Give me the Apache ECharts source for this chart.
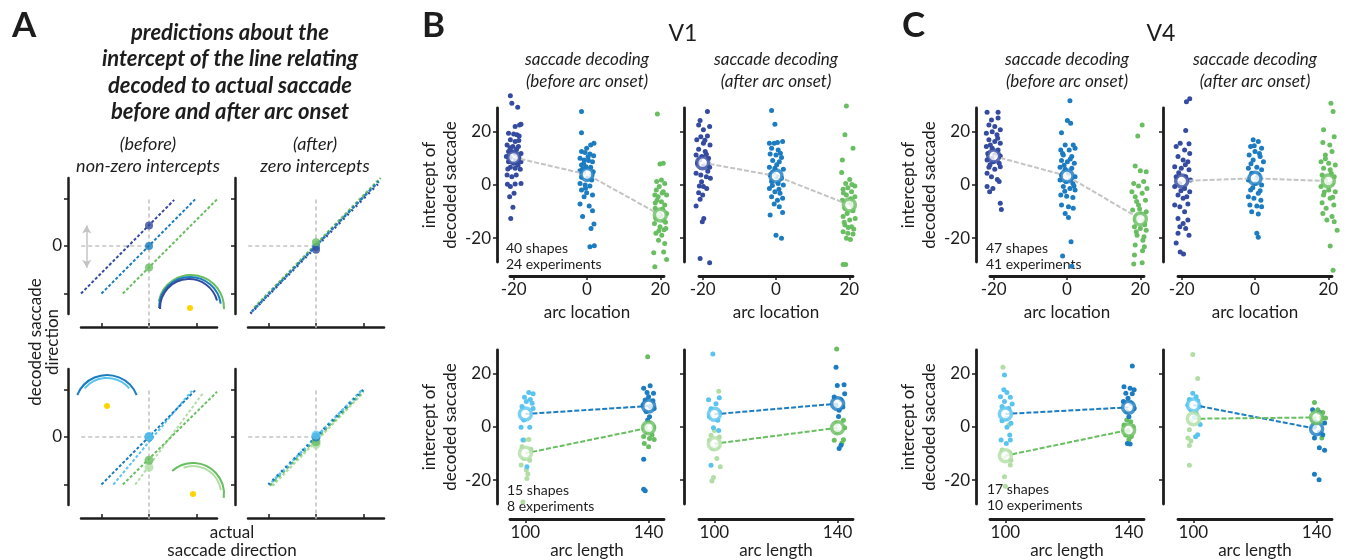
<!DOCTYPE html>
<html>
<head>
<meta charset="utf-8">
<script src="https://cdn.jsdelivr.net/npm/echarts@6/dist/echarts.min.js"></script>
<style>
  html, body { margin: 0; padding: 0; background: #fff; }
  #chart { width: 1346px; height: 560px; }
</style>
</head>
<body>
<div id="chart"></div>
<script>
// ---- data: [jittered x, intercept] ----
const arcLocations = [-20, 0, 20];
const arcLengths = [100, 140];
const locTicks = [-20, 0, 20];
const yTicks = [-20, 0, 20];

// V1, before arc onset
const v1BeforeM20 = [[-20.9,33.6],[-20.5,30.8],[-18.9,29.3],[-18.4,22.6],[-19.6,22.0],[-18.0,22.9],[-21.4,19.5],[-20.0,19.2],[-19.1,18.9],[-18.5,18.5],[-20.9,17.0],[-19.6,16.4],[-21.8,15.1],[-20.2,14.5],[-18.7,14.5],[-21.4,12.6],[-20.5,12.6],[-19.6,11.9],[-18.0,11.9],[-22.0,10.7],[-20.9,10.4],[-18.7,10.4],[-21.4,8.8],[-20.0,8.2],[-19.1,8.2],[-18.0,8.8],[-20.9,6.7],[-19.6,6.3],[-18.2,5.9],[-21.8,3.8],[-20.5,3.1],[-19.3,3.8],[-21.7,0.3],[-20.9,-0.6],[-19.6,0.4],[-18.0,0.6],[-21.1,-4.4],[-19.9,-3.1],[-20.2,-8.4],[-20.8,-12.6],[-19.2,13.5],[-21.0,14.0],[-18.6,16.8],[-19.5,9.6],[-21.6,6.0],[-18.8,7.4]];
const v1Before0 = [[-1.5,27.7],[-1.5,19.7],[1.9,15.7],[1.0,15.1],[-0.1,13.8],[-1.5,12.6],[-0.5,12.2],[0.8,11.7],[-1.9,10.1],[-0.8,9.4],[0.4,9.2],[1.5,8.8],[-1.5,7.5],[-0.3,6.9],[1.0,6.7],[-1.9,5.4],[-1.0,4.7],[1.7,5.0],[-1.5,2.9],[0.1,2.5],[1.3,1.9],[-1.9,0.6],[-0.5,0.0],[0.8,-0.4],[-1.5,-1.9],[-0.1,-2.9],[1.5,-3.8],[-0.8,-4.4],[-1.9,-7.2],[0.6,-7.9],[1.5,-9.7],[-1.2,-11.9],[1.9,-14.7],[1.1,-16.4],[0.8,-23.3],[2.0,-22.9],[0.3,10.6],[-0.9,8.0],[1.2,3.6],[-0.4,-1.2],[1.8,11.0],[-1.2,6.0]];
const v1Before20 = [[19.2,26.7],[20.8,8.2],[19.9,7.9],[19.0,1.3],[20.3,1.9],[21.2,0.6],[19.7,-0.6],[18.5,-3.8],[20.8,-2.5],[21.7,-3.8],[19.1,-5.7],[20.3,-6.3],[21.2,-7.5],[18.6,-8.8],[19.9,-10.1],[21.7,-10.7],[18.8,-12.6],[20.8,-13.2],[18.4,-14.5],[19.9,-15.7],[21.5,-16.4],[18.8,-18.2],[20.4,-18.9],[19.5,-20.8],[21.2,-22.0],[18.2,-25.5],[20.9,-25.2],[21.7,-28.1],[18.5,-30.8],[19.4,-4.4],[20.6,-9.0],[19.3,-12.0],[21.0,-16.9],[18.9,-1.9],[20.1,-11.5],[18.6,-6.8],[21.4,-14.0],[19.6,-17.2],[20.5,-3.0]];
const v1BeforeMeans = [10.4, 4.0, -11.3];

// V1, after arc onset
const v1AfterM20 = [[-18.7,27.7],[-20.7,24.3],[-18.1,22.0],[-21.1,22.6],[-19.8,20.8],[-20.5,18.2],[-18.7,18.5],[-21.6,17.0],[-19.8,15.7],[-18.0,15.1],[-21.1,13.5],[-19.3,12.6],[-21.8,11.3],[-20.2,10.7],[-18.4,10.1],[-21.4,8.2],[-19.8,7.2],[-18.1,6.7],[-21.8,4.4],[-20.5,3.8],[-19.0,3.1],[-17.9,2.5],[-20.9,-0.4],[-19.8,-0.6],[-18.9,-1.3],[-21.1,-2.9],[-20.0,-3.8],[-20.7,-5.4],[-21.8,-7.9],[-19.7,-12.6],[-20.1,-13.8],[-20.7,-27.7],[-18.1,-29.3],[-19.0,11.6],[-20.8,9.4],[-18.6,5.2],[-20.3,1.2],[-19.4,16.9]];
const v1After0 = [[-1.2,28.1],[-0.3,22.9],[-1.8,15.7],[-0.5,15.7],[0.4,16.0],[1.8,16.4],[-1.2,13.8],[0.6,13.2],[-1.6,11.7],[0.0,11.3],[1.5,10.4],[-0.9,9.2],[0.9,8.8],[-1.8,6.7],[-0.3,6.3],[2.0,5.9],[-1.6,3.8],[0.2,3.1],[1.5,2.5],[-1.2,1.3],[0.6,0.6],[2.0,0.0],[-1.8,-1.3],[-0.3,-2.5],[1.1,-3.1],[-1.2,-4.4],[0.4,-5.7],[1.8,-5.0],[-0.5,-7.2],[0.9,-8.2],[-1.6,-11.3],[1.8,-10.4],[0.0,-18.9],[1.5,-20.1],[0.2,7.6],[-0.7,4.8],[1.2,12.0],[-1.0,-0.2],[0.8,-1.6]];
const v1After20 = [[19.2,29.8],[18.8,18.9],[21.0,13.8],[18.1,9.4],[17.9,4.7],[20.1,2.1],[19.0,0.6],[21.5,-0.4],[18.3,-1.6],[20.6,-2.5],[19.2,-3.8],[21.5,-4.4],[18.1,-5.7],[20.1,-6.7],[18.8,-8.8],[21.0,-9.7],[18.3,-11.9],[20.1,-13.2],[21.6,-12.6],[18.8,-15.1],[20.6,-15.7],[18.3,-17.6],[19.6,-18.2],[21.0,-18.5],[19.2,-20.1],[20.3,-20.5],[18.3,-29.9],[19.0,-29.9],[19.6,-1.0],[20.9,-7.9],[19.4,-10.7],[18.6,-14.0],[20.4,-5.2],[21.2,-16.6],[19.7,-16.0],[18.4,-3.0],[20.7,0.2]];
const v1AfterMeans = [8.4, 3.4, -7.5];

// V4, before arc onset
const v4BeforeM20 = [[-21.8,27.4],[-18.8,27.4],[-20.6,24.5],[-18.8,25.2],[-21.3,22.6],[-19.7,22.0],[-18.2,20.8],[-22.0,19.5],[-20.4,20.1],[-19.1,18.9],[-21.3,17.0],[-19.7,16.4],[-18.2,15.7],[-22.0,14.5],[-20.4,13.8],[-18.8,13.2],[-21.6,11.9],[-19.7,11.3],[-18.2,10.9],[-21.8,9.4],[-20.1,8.8],[-18.5,8.2],[-21.3,6.7],[-19.7,5.9],[-18.2,6.9],[-21.8,4.4],[-20.6,3.1],[-19.0,2.1],[-18.5,1.3],[-21.8,-0.6],[-21.1,-2.5],[-20.2,-1.3],[-18.2,-6.9],[-17.9,-9.2],[-20.9,15.1],[-19.2,12.2],[-21.0,7.6],[-18.9,17.6],[-20.5,10.0]];
const v4Before0 = [[0.8,31.7],[0.1,24.3],[1.0,23.3],[-1.5,19.7],[1.7,15.1],[-0.5,15.1],[-1.7,13.2],[0.6,13.2],[2.2,13.8],[-1.0,11.3],[1.3,10.7],[-1.5,9.2],[0.1,8.8],[2.0,8.2],[-1.9,6.7],[-0.5,5.9],[1.3,6.3],[-1.5,3.8],[0.4,4.4],[2.2,3.1],[-1.9,1.9],[-0.3,1.3],[1.6,0.6],[-1.0,-0.6],[0.8,-1.3],[2.2,-1.9],[-1.7,-3.8],[-0.1,-4.2],[1.6,-4.7],[-1.5,-7.5],[0.4,-8.2],[1.7,-8.8],[-0.5,-10.7],[0.4,-12.2],[1.1,-21.4],[-1.2,-26.7],[1.3,-30.6],[0.9,9.8],[-0.8,7.4],[1.0,2.2],[-0.6,-2.4],[1.9,-0.4],[-1.2,11.9]];
const v4Before20 = [[20.5,22.6],[19.3,18.5],[18.6,7.2],[20.0,5.4],[21.6,5.0],[18.2,0.6],[20.9,1.3],[19.5,-0.4],[21.8,-1.3],[17.7,-2.5],[20.5,-3.1],[18.6,-4.4],[21.4,-5.7],[19.5,-7.5],[17.9,-9.4],[21.6,-10.1],[19.1,-11.9],[20.9,-13.8],[18.4,-15.7],[20.0,-16.4],[21.6,-17.0],[19.1,-18.9],[20.7,-20.8],[18.6,-22.6],[21.1,-23.3],[18.4,-26.4],[20.5,-29.3],[18.2,-29.8],[19.8,-9.0],[18.8,-13.0],[21.2,-15.0],[20.2,-11.0],[19.0,-6.2],[21.0,-19.5],[18.9,-17.6],[20.6,-24.8]];
const v4BeforeMeans = [10.9, 3.4, -12.8];

// V4, after arc onset
const v4AfterM20 = [[-17.8,32.5],[-18.7,31.4],[-18.9,20.5],[-20.4,15.7],[-18.0,15.5],[-21.5,14.5],[-19.2,13.2],[-17.8,11.9],[-21.0,10.7],[-19.6,9.4],[-18.3,8.8],[-21.9,6.9],[-20.1,6.3],[-18.0,5.7],[-21.5,3.1],[-18.9,3.1],[-17.6,1.9],[-20.5,0.6],[-21.9,-0.6],[-19.2,-1.3],[-17.8,-2.5],[-21.0,-3.8],[-19.6,-5.0],[-21.9,-7.5],[-18.3,-7.2],[-20.5,-8.2],[-19.2,-10.1],[-21.0,-12.6],[-18.3,-13.2],[-19.6,-14.5],[-20.5,-15.7],[-18.9,-16.4],[-21.0,-18.2],[-18.0,-18.9],[-21.5,-21.8],[-20.4,-25.2],[-19.5,-26.0],[-20.8,4.6],[-19.0,7.6],[-20.2,-2.2],[-18.6,-4.4]];
const v4After0 = [[-0.5,17.0],[0.9,16.4],[-1.2,14.5],[1.8,13.8],[0.0,12.6],[-1.6,11.3],[1.4,10.7],[-0.5,9.4],[2.3,8.8],[-1.8,6.3],[0.5,6.7],[1.8,5.7],[-0.9,4.4],[0.9,3.8],[-1.8,1.9],[0.0,0.6],[1.8,0.0],[-1.2,-1.9],[0.9,-3.1],[-1.8,-4.4],[-0.3,-5.0],[1.6,-5.7],[-1.4,-7.5],[0.5,-7.9],[1.8,-8.2],[-0.9,-10.1],[0.9,-10.9],[0.5,-18.2],[0.9,-19.7],[-0.2,14.8],[1.2,11.9],[-1.1,8.0],[0.4,2.6],[-0.6,-1.0],[1.4,-2.2]];
const v4After20 = [[20.7,30.8],[21.3,27.7],[18.7,20.8],[21.6,18.2],[20.4,15.1],[18.5,16.0],[21.0,12.6],[19.2,11.3],[18.0,8.8],[20.1,8.2],[21.9,7.5],[18.7,6.3],[20.5,5.7],[18.3,3.8],[21.6,3.1],[19.2,1.9],[21.0,0.6],[18.0,-0.6],[20.1,-1.9],[21.9,-2.5],[18.7,-3.8],[20.5,-5.0],[18.3,-6.7],[21.5,-7.5],[19.4,-8.8],[18.5,-10.7],[21.0,-11.9],[19.6,-13.2],[21.6,-13.8],[22.4,-17.0],[20.5,-23.0],[21.3,-32.1],[19.2,9.9],[20.8,4.4],[18.9,-2.6],[19.9,0.3],[21.2,-4.6]];
const v4AfterMeans = [1.5, 2.5, 1.5];

// arc length plots: arc at -20 (100 / 140, blues) and +20 (100 / 140, greens)
const v1BeforeLen100Neg = [[101.1,13.0],[102.5,12.5],[99.7,11.2],[101.6,10.4],[100.3,9.6],[102.2,8.9],[98.9,7.7],[102.5,7.0],[99.5,2.6],[98.6,-0.1],[101.4,-0.1],[99.2,-4.9],[100.5,-15.0]];
const v1BeforeLen100Pos = [[99.7,-4.9],[101.1,-4.7],[98.9,-7.4],[101.8,-8.4],[99.5,-11.8],[101.4,-12.5],[98.6,-14.3],[100.3,-16.2],[100.8,-17.7],[100.5,-19.4],[99.2,-28.2]];
const v1BeforeLen140Neg = [[138.4,14.6],[140.5,15.5],[139.5,13.0],[141.6,12.7],[140.0,11.4],[138.9,10.2],[141.4,9.9],[138.2,8.3],[140.5,7.7],[141.8,7.0],[139.2,5.8],[140.3,3.9],[139.7,2.6],[138.4,-12.1],[138.4,-23.4],[138.9,-24.0]];
const v1BeforeLen140Pos = [[139.7,26.5],[140.0,1.6],[138.9,0.4],[141.6,-0.1],[139.5,-1.8],[141.1,-3.0],[138.4,-3.6],[140.3,-4.3],[141.8,-4.7],[138.6,-6.2],[140.0,-7.4]];
const v1BeforeLenMeans = { neg: [4.9, 7.9], pos: [-9.9, -0.3] };

const v1AfterLen100Neg = [[99.5,27.5],[98.1,10.3],[101.6,11.0],[100.5,8.8],[98.9,6.9],[101.6,5.6],[98.4,4.0],[101.1,2.5],[99.7,-0.3],[101.4,-1.3],[98.9,-14.4]];
const v1AfterLen100Pos = [[101.4,13.5],[100.0,-1.3],[98.9,-3.1],[101.6,-3.8],[98.4,-5.0],[101.1,-7.3],[99.5,-8.1],[100.8,-11.9],[101.9,-15.0],[99.7,-19.0],[99.2,-20.3]];
const v1AfterLen140Neg = [[139.5,22.5],[139.9,15.6],[142.1,15.9],[142.3,12.5],[138.9,11.3],[141.1,10.3],[139.5,8.1],[141.7,7.5],[140.5,6.3],[140.3,4.0],[141.1,-6.9],[140.5,-8.1]];
const v1AfterLen140Pos = [[139.7,29.4],[141.9,2.5],[139.5,1.3],[142.3,-0.3],[139.8,-1.9],[138.9,-5.0],[141.9,-4.8],[141.4,-6.0]];
const v1AfterLenMeans = { neg: [4.8, 8.8], pos: [-6.3, -0.3] };

const v4BeforeLen100Neg = [[99.7,19.6],[99.5,14.0],[100.5,13.0],[98.4,11.4],[101.6,11.2],[99.7,9.6],[102.2,8.7],[98.9,7.7],[101.1,7.0],[100.3,3.3],[98.9,2.4],[101.8,1.4],[100.5,-0.1],[101.4,-3.0],[98.6,-4.9],[101.6,-4.9],[100.3,-6.2]];
const v4BeforeLen100Pos = [[99.2,22.5],[101.1,0.8],[98.9,-8.7],[101.4,-9.7],[99.7,-11.8],[101.8,-12.5],[101.6,-14.3],[99.7,-18.7],[100.0,-22.3]];
const v4BeforeLen140Neg = [[141.2,23.0],[138.5,15.2],[140.5,14.6],[141.8,14.0],[139.1,12.7],[141.2,12.5],[139.8,10.8],[138.3,9.6],[140.7,8.9],[141.8,7.0],[139.4,5.8],[140.1,3.9],[139.6,-6.2],[140.5,-6.4]];
const v4BeforeLen140Pos = [[139.4,2.6],[140.7,2.0],[138.5,0.8],[141.5,0.1],[139.8,-1.4],[139.1,-3.0],[140.9,-3.6],[140.1,-4.7]];
const v4BeforeLenMeans = { neg: [4.9, 7.4], pos: [-10.8, -1.1] };

const v4AfterLen100Neg = [[99.8,12.7],[100.9,11.4],[98.7,10.4],[101.4,9.9],[98.2,8.3],[102.0,7.7],[99.2,6.5],[100.9,5.2],[100.3,3.7],[102.2,0.9],[101.4,-2.9],[100.7,-3.7]];
const v4AfterLen100Pos = [[99.8,27.3],[101.4,18.3],[99.2,2.1],[98.7,-1.0],[98.2,-4.1],[99.2,-5.3],[98.7,-7.0],[98.7,-14.4]];
const v4AfterLen140Neg = [[138.7,6.5],[140.9,5.5],[139.6,2.1],[142.6,1.5],[139.3,0.0],[140.9,-2.0],[142.0,-2.9],[139.3,-4.1],[140.9,-7.8],[142.6,-8.8],[139.3,-17.8],[140.8,-19.9]];
const v4AfterLen140Pos = [[139.3,9.2],[140.4,6.5],[142.0,5.5],[141.5,3.7],[142.9,3.4],[138.7,2.7],[139.8,1.2],[141.7,-4.1]];
const v4AfterLenMeans = { neg: [8.3, -0.7], pos: [3.1, 3.6] };

// panel A schematic lines (schematic units)
const aTicks = [-1, 0, 1];
const aLocBeforeDark = [[-1.43,-1],[0.53,0.97]];
const aLocBeforeBlue = [[-1,-1],[0.97,0.98]];
const aLocBeforeGreen = [[-0.55,-1],[1.43,0.98]];
const aLocBeforeDots = { dark: 0.43, blue: 0, green: -0.45 };
const aLocAfterDark = [[-1.38,-1.42],[1.3,1.3]];
const aLocAfterBlue = [[-1.35,-1.38],[1.32,1.36]];
const aLocAfterGreen = [[-1.3,-1.3],[1.36,1.43]];
const aLocAfterDots = { dark: -0.08, blue: -0.02, green: 0.08 };
const aLenBeforeBlue = [[-1,-1],[0.97,0.98]];
const aLenBeforeLBlue = [[-0.75,-1],[0.9,0.97]];
const aLenBeforeGreen = [[-0.55,-1],[1.43,0.95]];
const aLenBeforeLGreen = [[-0.29,-1],[1.14,0.93]];
const aLenBeforeDots = { lblue: 0.01, blue: 0, green: -0.49, lgreen: -0.64 };
const aLenAfterBlue = [[-1,-1],[1,1]];
const aLenAfterLBlue = [[-0.93,-0.95],[0.98,1.0]];
const aLenAfterGreen = [[-0.97,-1.02],[1.0,0.97]];
const aLenAfterLGreen = [[-0.92,-1.03],[1.0,0.94]];
const aLenAfterDots = { lblue: 0.04, blue: 0, green: -0.1, lgreen: -0.16 };

// ---- styling ----
const FONT = 'Lato, "Noto Sans", sans-serif';
const INK = '#1d1d1d';
const COL = {
  dark: '#354ba0', blue: '#1b7cc1', green: '#68be60',
  lblue: '#59c4f0', lgreen: '#b2dea5', gray: '#c4c4c4', yellow: '#ffd500'
};

const grids = [], xAxes = [], yAxes = [], series = [];

function addPlot(o) {
  const i = grids.length;
  grids.push({ left: o.left, top: o.top, width: o.w, height: o.h });
  xAxes.push({
    gridIndex: i, type: 'value', min: o.xMin, max: o.xMax, offset: o.xOff,
    axisLine: { onZero: false, lineStyle: { color: INK, width: o.lw } },
    axisTick: { inside: !!o.xTickIn, length: 4, lineStyle: { color: INK, width: 1.5 }, customValues: o.xTicks },
    axisLabel: { show: !!o.xLabels, customValues: o.xTicks, fontFamily: FONT, fontSize: 17, color: INK, margin: 5 },
    splitLine: { show: false },
    name: o.xName || '', nameLocation: 'middle', nameGap: o.xNameGap || 25,
    nameTextStyle: { fontFamily: FONT, fontSize: 17, color: INK }
  });
  yAxes.push({
    gridIndex: i, type: 'value', min: o.yMin, max: o.yMax, offset: o.yOff,
    axisLine: { onZero: false, lineStyle: { color: INK, width: o.lw } },
    axisTick: { length: 4, lineStyle: { color: INK, width: 1.5 }, customValues: o.yTicks },
    axisLabel: { show: !!o.yLabels, customValues: o.yLabels || [], fontFamily: FONT, fontSize: 17, color: INK, margin: 6 },
    splitLine: { show: false },
    name: o.yName || '', nameLocation: 'middle', nameGap: o.yNameGap || 34, nameRotate: 90,
    nameTextStyle: { fontFamily: FONT, fontSize: 17, color: INK, lineHeight: 21 }
  });
  return i;
}

function dots(g, pts, color) {
  series.push({ type: 'scatter', xAxisIndex: g, yAxisIndex: g, data: pts, symbolSize: 5, clip: false,
    itemStyle: { color: color, opacity: 1 }, z: 2, silent: true });
}
function rings(g, pts, color) {
  series.push({ type: 'scatter', xAxisIndex: g, yAxisIndex: g, data: pts, symbolSize: 12, clip: false,
    itemStyle: { color: '#fff', borderColor: color, borderWidth: 3.5 }, z: 6, silent: true });
}
function link(g, pts, color, width, dash, z) {
  series.push({ type: 'line', xAxisIndex: g, yAxisIndex: g, data: pts, symbol: 'none', clip: false,
    lineStyle: { color: color, width: width, type: dash }, z: z || 4, silent: true });
}
function blob(g, y, color, size) {
  series.push({ type: 'scatter', xAxisIndex: g, yAxisIndex: g, data: [[0, y]], symbolSize: size || 8, clip: false,
    itemStyle: { color: color }, z: 6, silent: true });
}

// ---- panel A ----
const aBase = { w: 136, h: 136, xMin: -1.43, xMax: 1.43, yMin: -1.43, yMax: 1.43, lw: 2.5,
  xOff: 13, yOff: 13, xTicks: aTicks, yTicks: aTicks, xTickIn: true };
const gA1 = addPlot(Object.assign({}, aBase, { left: 81, top: 178, yLabels: [0] }));
const gA2 = addPlot(Object.assign({}, aBase, { left: 248, top: 178 }));
const gA3 = addPlot(Object.assign({}, aBase, { left: 81, top: 369, yLabels: [0] }));
const gA4 = addPlot(Object.assign({}, aBase, { left: 248, top: 369 }));

const cross = [[0, 0.98], [0, -1.72]];
const crossH = [[-1.72, 0], [0, 0]];
[gA1, gA2, gA3, gA4].forEach(function (g) {
  link(g, cross, COL.gray, 1.6, [4, 3], 1);
  link(g, crossH, COL.gray, 1.6, [4, 3], 1);
});
// double arrow: intercept shift
series.push({ type: 'line', xAxisIndex: gA1, yAxisIndex: gA1, data: [], symbol: 'none',
  markLine: { silent: true, symbol: ['arrow', 'arrow'], symbolSize: [7, 8], label: { show: false },
    lineStyle: { color: COL.gray, width: 1.5, type: 'solid' },
    data: [[{ coord: [-1.31, 0.43] }, { coord: [-1.31, -0.46] }]] } });

const fine = [3, 2];
link(gA1, aLocBeforeDark, COL.dark, 2, fine);
link(gA1, aLocBeforeBlue, COL.blue, 2, fine);
link(gA1, aLocBeforeGreen, COL.green, 2, fine);
blob(gA1, aLocBeforeDots.dark, COL.dark);
blob(gA1, aLocBeforeDots.blue, COL.blue);
blob(gA1, aLocBeforeDots.green, COL.green);

link(gA2, aLocAfterGreen, COL.green, 2.5, fine);
link(gA2, aLocAfterBlue, COL.blue, 2.5, [3, 3]);
link(gA2, aLocAfterDark, COL.dark, 2.5, [2, 4]);
blob(gA2, aLocAfterDots.blue, COL.blue);
blob(gA2, aLocAfterDots.dark, COL.dark);
blob(gA2, aLocAfterDots.green, COL.green);

link(gA3, aLenBeforeLGreen, COL.lgreen, 2, fine);
link(gA3, aLenBeforeGreen, COL.green, 2, fine);
link(gA3, aLenBeforeLBlue, COL.lblue, 2, fine);
link(gA3, aLenBeforeBlue, COL.blue, 2, fine);
blob(gA3, aLenBeforeDots.lgreen, COL.lgreen, 9);
blob(gA3, aLenBeforeDots.green, COL.green, 9);
blob(gA3, aLenBeforeDots.blue, COL.blue, 9);
blob(gA3, aLenBeforeDots.lblue, COL.lblue, 9);

link(gA4, aLenAfterLGreen, COL.lgreen, 2.5, fine);
link(gA4, aLenAfterGreen, COL.green, 2.5, [3, 3]);
link(gA4, aLenAfterLBlue, COL.lblue, 2.5, fine);
link(gA4, aLenAfterBlue, COL.blue, 2.5, [2, 4]);
blob(gA4, aLenAfterDots.lgreen, COL.lgreen, 9);
blob(gA4, aLenAfterDots.green, COL.green, 9);
blob(gA4, aLenAfterDots.blue, COL.blue, 9);
blob(gA4, aLenAfterDots.lblue, COL.lblue, 9);

// ---- panels B and C ----
const yName = 'intercept of\ndecoded saccade';
const colLefts = [510, 699, 990, 1178];
const yOffs = [13, 15, 14, 15];
const locPlots = [
  { cols: [v1BeforeM20, v1Before0, v1Before20], means: v1BeforeMeans },
  { cols: [v1AfterM20, v1After0, v1After20], means: v1AfterMeans },
  { cols: [v4BeforeM20, v4Before0, v4Before20], means: v4BeforeMeans },
  { cols: [v4AfterM20, v4After0, v4After20], means: v4AfterMeans }
];
const locColors = [COL.dark, COL.blue, COL.green];
locPlots.forEach(function (p, k) {
  const left = k % 2 === 0;
  const g = addPlot({ left: colLefts[k], top: 108, w: 154, h: 154, xMin: -21, xMax: 21, yMin: -29, yMax: 29,
    lw: 2.8, xOff: 14, yOff: yOffs[k], xTicks: locTicks, yTicks: yTicks, xLabels: true,
    yLabels: left ? yTicks : null, yName: left ? yName : '', xName: 'arc location', xNameGap: 28 });
  p.cols.forEach(function (c, j) { dots(g, c, locColors[j]); });
  link(g, arcLocations.map(function (x, j) { return [x, p.means[j]]; }), COL.gray, 2, [5, 2], 4);
  arcLocations.forEach(function (x, j) { rings(g, [[x, p.means[j]]], locColors[j]); });
});

const lenPlots = [
  { neg: [v1BeforeLen100Neg, v1BeforeLen140Neg], pos: [v1BeforeLen100Pos, v1BeforeLen140Pos], means: v1BeforeLenMeans },
  { neg: [v1AfterLen100Neg, v1AfterLen140Neg], pos: [v1AfterLen100Pos, v1AfterLen140Pos], means: v1AfterLenMeans },
  { neg: [v4BeforeLen100Neg, v4BeforeLen140Neg], pos: [v4BeforeLen100Pos, v4BeforeLen140Pos], means: v4BeforeLenMeans },
  { neg: [v4AfterLen100Neg, v4AfterLen140Neg], pos: [v4AfterLen100Pos, v4AfterLen140Pos], means: v4AfterLenMeans }
];
lenPlots.forEach(function (p, k) {
  const left = k % 2 === 0;
  const g = addPlot({ left: colLefts[k], top: 350, w: 154, h: 154, xMin: 95, xMax: 145, yMin: -29, yMax: 29,
    lw: 2.8, xOff: 15, yOff: yOffs[k], xTicks: arcLengths, yTicks: yTicks, xLabels: true,
    yLabels: left ? yTicks : null, yName: left ? yName : '', xName: 'arc length', xNameGap: 21 });
  dots(g, p.pos[0], COL.lgreen);
  dots(g, p.neg[0], COL.lblue);
  dots(g, p.pos[1], COL.green);
  dots(g, p.neg[1], COL.blue);
  link(g, arcLengths.map(function (x, j) { return [x, p.means.neg[j]]; }), COL.blue, 2, [5, 2], 4);
  link(g, arcLengths.map(function (x, j) { return [x, p.means.pos[j]]; }), COL.green, 2, [5, 2], 4);
  rings(g, [[100, p.means.neg[0]]], COL.lblue);
  rings(g, [[140, p.means.neg[1]]], COL.blue);
  rings(g, [[100, p.means.pos[0]]], COL.lgreen);
  rings(g, [[140, p.means.pos[1]]], COL.green);
});

// ---- free text and icons ----
function txt(x, y, text, font, align, extra) {
  return Object.assign({ type: 'text', x: x, y: y, silent: true,
    style: { text: text, font: font, fill: INK, textAlign: align || 'center', textVerticalAlign: 'middle' } }, extra || {});
}
const F17i = 'italic 17px ' + FONT;
const F18i = 'italic 18px ' + FONT;
const FT = 'italic bold 22px ' + FONT;
const graphics = [
  txt(12, 26, 'A', 'bold 35px ' + FONT, 'left'),
  txt(422, 26, 'B', 'bold 35px ' + FONT, 'left'),
  txt(902, 26, 'C', 'bold 35px ' + FONT, 'left'),
  txt(683, 34, 'V1', '23px ' + FONT),
  txt(1161, 34, 'V4', '23px ' + FONT),
  txt(230, 33, 'predictions about the', FT),
  txt(230, 59, 'intercept of the line relating', FT),
  txt(230, 86, 'decoded to actual saccade', FT),
  txt(230, 112, 'before and after arc onset', FT),
  txt(148, 144, '(before)', F18i), txt(148, 166, 'non-zero intercepts', F18i),
  txt(315, 144, '(after)', F18i), txt(315, 166, 'zero intercepts', F18i),
  txt(232, 533, 'actual', '17px ' + FONT), txt(232, 551, 'saccade direction', '17px ' + FONT),
  { type: 'text', x: 44, y: 342, rotation: Math.PI / 2, silent: true,
    style: { text: 'decoded saccade\ndirection', font: '17px ' + FONT, fill: INK, textAlign: 'center', textVerticalAlign: 'middle', lineHeight: 17 } }
];
[587, 776, 1067, 1255].forEach(function (cx, k) {
  graphics.push(txt(cx, 60, 'saccade decoding', F17i));
  graphics.push(txt(cx, 82, k % 2 === 0 ? '(before arc onset)' : '(after arc onset)', F17i));
});
[[506, 248, '40 shapes', '24 experiments'], [986, 248, '47 shapes', '41 experiments'],
 [507, 490, '15 shapes', '8 experiments'], [987, 489, '17 shapes', '10 experiments']].forEach(function (t) {
  graphics.push(txt(t[0], t[1], t[2], '14px ' + FONT, 'left'));
  graphics.push(txt(t[0], t[1] + 16, t[3], '14px ' + FONT, 'left'));
});
function arc(cx, cy, r, a0, a1, color) {
  return { type: 'arc', silent: true, shape: { cx: cx, cy: cy, r: r, startAngle: a0 * Math.PI / 180, endAngle: a1 * Math.PI / 180, clockwise: true },
    style: { stroke: color, lineWidth: 2, fill: null } };
}
function sun(cx, cy) {
  return { type: 'circle', silent: true, shape: { cx: cx, cy: cy, r: 3 }, style: { fill: COL.yellow } };
}
graphics.push(
  arc(191, 308, 33, 192, 362, COL.green), arc(190, 308, 31, 180, 352, COL.blue), arc(189, 308, 29, 178, 345, COL.dark), sun(190, 308),
  arc(107, 407, 32, 202, 338, COL.blue), arc(107, 407, 29, 220, 320, COL.lblue), sun(107, 406),
  arc(193, 494, 31, 228, 367, COL.green), arc(193, 494, 28, 250, 352, COL.lgreen), sun(193, 494)
);

const chart = echarts.init(document.getElementById('chart'), null, { renderer: 'canvas' });
chart.setOption({
  animation: false,
  backgroundColor: '#fff',
  grid: grids,
  xAxis: xAxes,
  yAxis: yAxes,
  series: series,
  graphic: graphics
});
</script>
</body>
</html>
